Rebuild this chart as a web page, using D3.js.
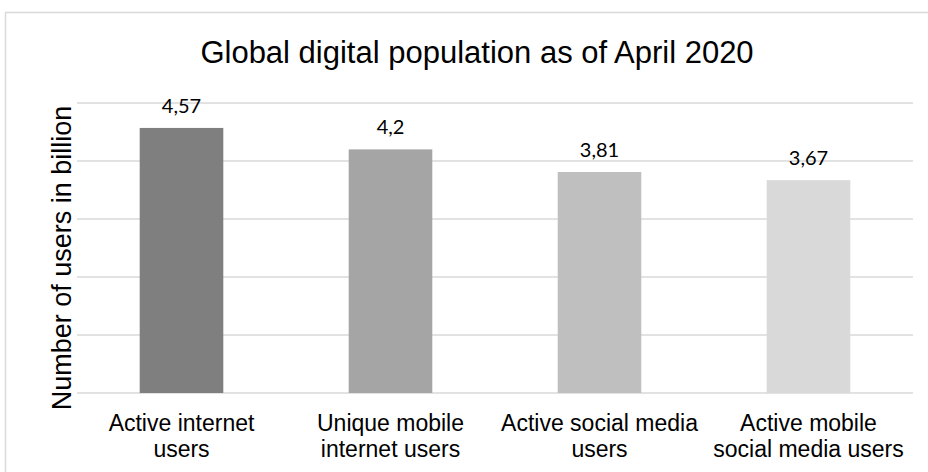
<!DOCTYPE html>
<html>
<head>
<meta charset="utf-8">
<script src="https://cdn.jsdelivr.net/npm/d3@7"></script>
<style>
  body { margin: 0; background: #fff; }
  svg { display: block; }
</style>
</head>
<body>
<svg id="chart" width="928" height="472"></svg>
<script>
// chart data
const categories = [
    ['Active internet', 'users'],
    ['Unique mobile', 'internet users'],
    ['Active social media', 'users'],
    ['Active mobile', 'social media users']
];
const values = [4.57, 4.2, 3.81, 3.67];
const valueLabels = ['4,57', '4,2', '3,81', '3,67'];
const gridTicks = [0, 1, 2, 3, 4, 5];
const barColors = ['#7f7f7f', '#a5a5a5', '#bfbfbf', '#d9d9d9'];

const svg = d3.select('#chart');
const plot = { left: 77, right: 913, top: 103, bottom: 393 };

// outer frame (right and bottom sides fall off the picture)
svg.append('rect')
    .attr('x', 5.5)
    .attr('y', 12.5)
    .attr('width', 960)
    .attr('height', 500)
    .attr('fill', 'none')
    .attr('stroke', '#d9d9d9')
    .attr('stroke-width', 1.5);

const x = d3.scaleBand()
    .domain(d3.range(values.length))
    .range([plot.left, plot.right])
    .paddingInner(0.6)
    .paddingOuter(0.3);

const y = d3.scaleLinear()
    .domain([0, 5])
    .range([plot.bottom, plot.top]);

// gridlines
svg.append('g')
    .selectAll('line')
    .data(gridTicks)
    .enter().append('line')
    .attr('x1', plot.left)
    .attr('x2', plot.right)
    .attr('y1', d => y(d))
    .attr('y2', d => y(d))
    .attr('stroke', '#d9d9d9')
    .attr('stroke-width', 1.5);

// bars
svg.append('g')
    .selectAll('rect')
    .data(values)
    .enter().append('rect')
    .attr('x', (d, i) => x(i))
    .attr('y', d => y(d))
    .attr('width', x.bandwidth())
    .attr('height', d => y(0) - y(d))
    .attr('fill', (d, i) => barColors[i]);

// value labels
svg.append('g')
    .selectAll('text')
    .data(values)
    .enter().append('text')
    .attr('x', (d, i) => x(i) + x.bandwidth() / 2)
    .attr('y', d => y(d) - 15)
    .attr('text-anchor', 'middle')
    .style('font-family', 'Lato, "Open Sans", sans-serif')
    .style('font-size', '20px')
    .style('fill', '#000')
    .text((d, i) => valueLabels[i]);

// category labels, two lines each
const catLabel = svg.append('g')
    .selectAll('text')
    .data(categories)
    .enter().append('text')
    .attr('text-anchor', 'middle')
    .style('font-family', '"Liberation Sans", Arial, sans-serif')
    .style('font-size', '23px')
    .style('fill', '#000');

catLabel.selectAll('tspan')
    .data((d, i) => d.map(line => ({ line, i })))
    .enter().append('tspan')
    .attr('x', d => x(d.i) + x.bandwidth() / 2)
    .attr('y', (d, j) => 431 + j * 26)
    .text(d => d.line);

// title
svg.append('text')
    .attr('x', 477)
    .attr('y', 63)
    .attr('text-anchor', 'middle')
    .style('font-family', '"Liberation Sans", Arial, sans-serif')
    .style('font-size', '31px')
    .style('fill', '#000')
    .text('Global digital population as of April 2020');

// y axis title
svg.append('text')
    .attr('transform', 'translate(71,258) rotate(-90)')
    .attr('text-anchor', 'middle')
    .style('font-family', '"Liberation Sans", Arial, sans-serif')
    .style('font-size', '27px')
    .style('fill', '#000')
    .text('Number of users in billion');
</script>
</body>
</html>
